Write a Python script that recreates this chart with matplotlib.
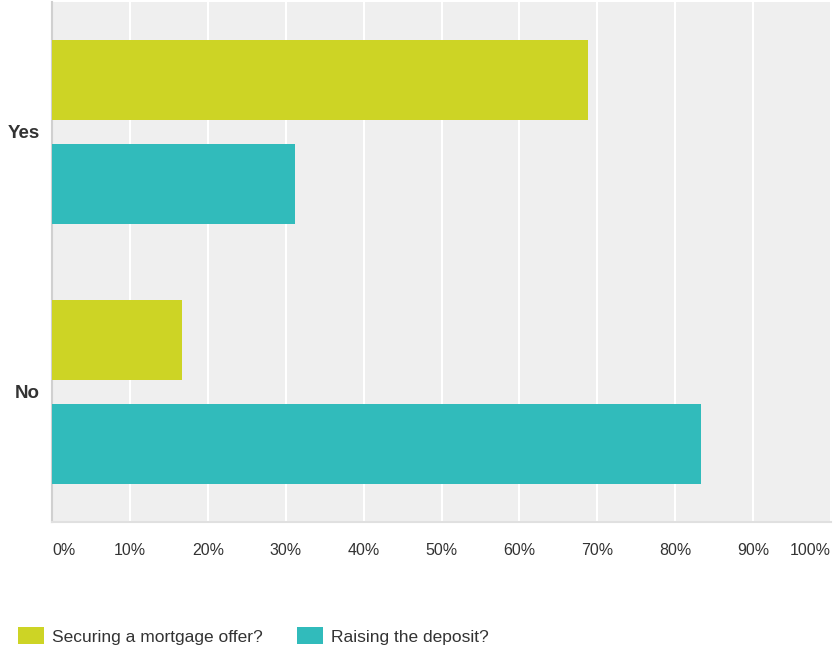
import matplotlib
matplotlib.use("Agg")
import matplotlib.pyplot as plt
import numpy as np

plt.rcParams['font.family'] = ['Liberation Sans', 'DejaVu Sans']

categories = ["Yes", "No"]
series_names = ["Securing a mortgage offer?", "Raising the deposit?"]
mortgage = [68.75, 16.67]
deposit = [31.25, 83.33]
colors = ["#cdd425", "#31bbbb"]
xticks = list(range(0, 101, 10))

fig = plt.figure(figsize=(8.34, 6.48), dpi=100)
ax = fig.add_axes([52/834, 1 - 522/648, (831-52)/834, 520/648])
ax.set_facecolor("#efefef")

y = np.arange(len(categories))
h = 0.31
ax.barh(y - 0.2, mortgage, height=h, color=colors[0], label=series_names[0], zorder=3)
ax.barh(y + 0.2, deposit, height=h, color=colors[1], label=series_names[1], zorder=3)

ax.set_xlim(0, 100)
ax.set_ylim(1.5, -0.5)
ax.set_xticks(xticks)
ax.set_xticklabels([f"{t}%" for t in xticks], fontsize=11.5, color="#333333")
labs = ax.get_xticklabels()
labs[0].set_ha("left")
labs[-1].set_ha("right")
ax.set_yticks(y)
ax.set_yticklabels(categories, fontsize=13.5, fontweight="bold", color="#333333")
ax.tick_params(axis="both", length=0)
ax.tick_params(axis="x", pad=15)
ax.tick_params(axis="y", pad=9)
ax.grid(axis="x", color="white", linewidth=1.5, zorder=1)

for s in ["top", "right"]:
    ax.spines[s].set_visible(False)
ax.spines["left"].set_color("#d0d0d0")
ax.spines["bottom"].set_color("#e0e0e0")
ax.spines["left"].set_linewidth(1.5)
ax.spines["bottom"].set_linewidth(1.5)

fig.legend(loc="center left", bbox_to_anchor=(18/834, 1 - 636/648), ncol=2,
           frameon=False, fontsize=12.5, handlelength=1.5, handleheight=1.1,
           handletextpad=0.45, columnspacing=2.0, borderaxespad=0, borderpad=0,
           labelcolor="#333333")

fig.savefig("out.png", dpi=100)
